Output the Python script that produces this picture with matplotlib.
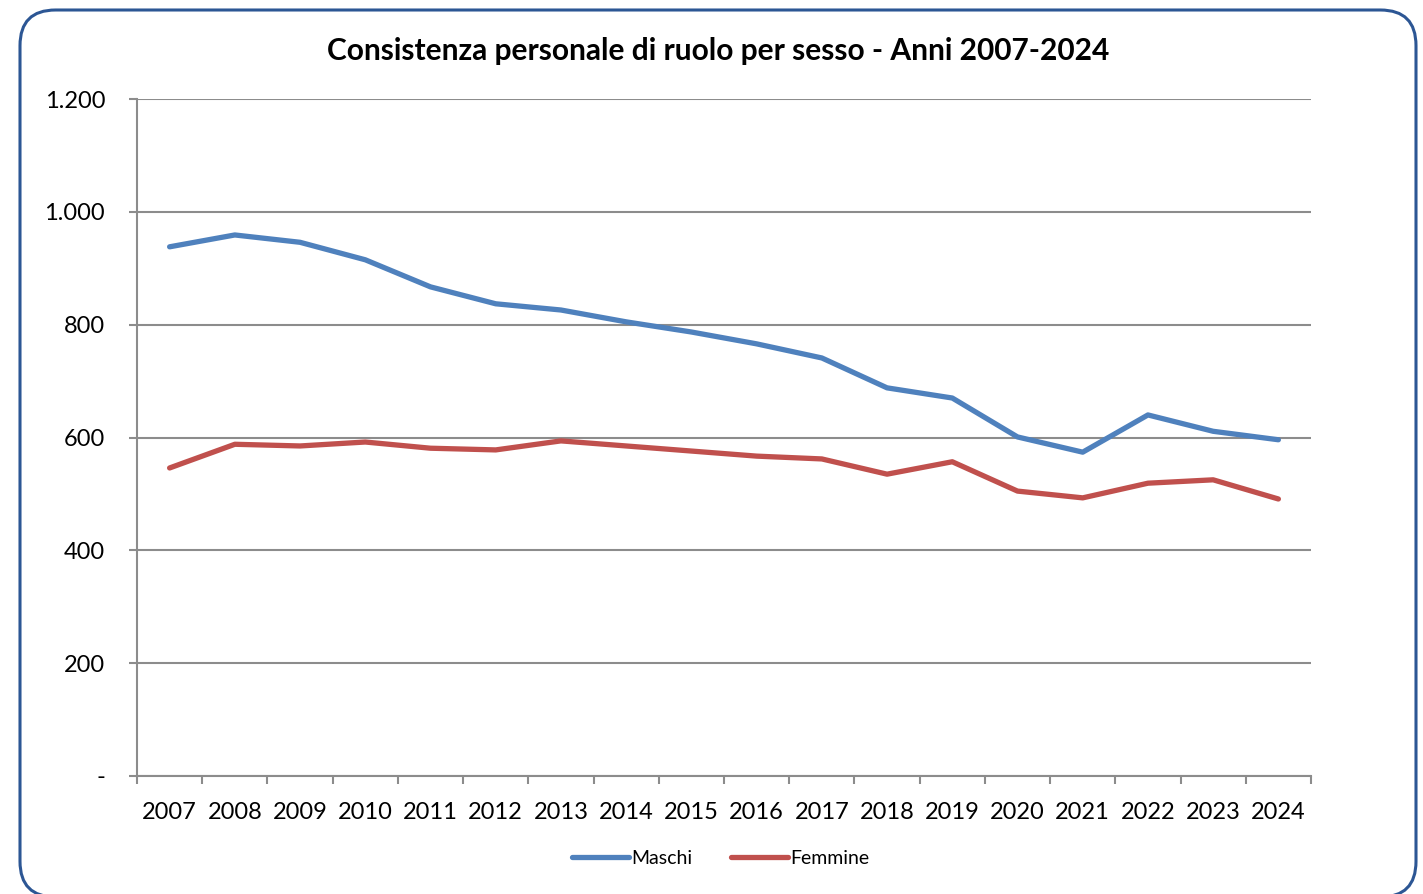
import matplotlib
matplotlib.use("Agg")
import matplotlib.pyplot as plt
from matplotlib.patches import FancyBboxPatch
from matplotlib.ticker import FixedLocator, FuncFormatter

years = [str(y) for y in range(2007, 2025)]
maschi = [938, 959, 946, 915, 867, 837, 826, 805, 787, 766, 741, 688, 670, 601, 574, 640, 611, 596]
femmine = [546, 588, 585, 592, 581, 578, 594, 585, 576, 567, 562, 535, 557, 505, 493, 519, 525, 491]

plt.rcParams['font.family'] = ['Lato', 'DejaVu Sans']

fig = plt.figure(figsize=(14.23, 8.94), dpi=100)
fig.patch.set_facecolor('white')

# rounded border
border = FancyBboxPatch((20/1423, -3/894), (1396/1423), (887/894),
                        boxstyle="round,pad=0,rounding_size=0.025",
                        transform=fig.transFigure, facecolor='none',
                        edgecolor='#2C5694', linewidth=2.2, mutation_aspect=1423/894)
fig.patches.append(border)

ax = fig.add_axes([137/1423, 1-776/894, (1311-137)/1423, (776-99)/894])
x = list(range(len(years)))
ax.plot(x, maschi, color='#4F81BD', lw=3.8, solid_capstyle='round', label='Maschi')
ax.plot(x, femmine, color='#C0504D', lw=3.8, solid_capstyle='round', label='Femmine')

ax.set_xlim(-0.5, len(years) - 0.5)
ax.set_ylim(0, 1200)
ax.set_yticks([0, 200, 400, 600, 800, 1000, 1200])
def fmt(v, pos):
    if v == 0:
        return '-'
    return f"{int(v):,}".replace(',', '.')
ax.yaxis.set_major_formatter(FuncFormatter(fmt))
ax.yaxis.grid(True, color='#8C8C8C', lw=1.5)
ax.set_axisbelow(True)

ax.set_xticks(x)
ax.set_xticklabels(years)
ax.xaxis.set_minor_locator(FixedLocator([i - 0.5 for i in range(len(years) + 1)]))
ax.tick_params(axis='x', which='major', length=0, pad=19, labelsize=17, colors='black')
ax.tick_params(axis='x', which='minor', length=6, width=1.5, color='#8C8C8C', direction='out')
ax.tick_params(axis='y', which='major', length=6, width=1.5, color='#8C8C8C', pad=17, labelsize=17)

for s in ['top', 'right']:
    ax.spines[s].set_visible(False)
for s in ['left', 'bottom']:
    ax.spines[s].set_color('#8C8C8C')
    ax.spines[s].set_linewidth(1.5)

fig.text(718/1423, 1-51/894, 'Consistenza personale di ruolo per sesso - Anni 2007-2024',
         ha='center', va='center', fontsize=21.5, fontweight='bold')

leg = fig.legend(loc='center', bbox_to_anchor=(721/1423, 1-858/894), ncol=2, frameon=False,
                 fontsize=14, handlelength=2.9, handletextpad=0.15, columnspacing=2.0)

fig.savefig('out.png', dpi=100)
